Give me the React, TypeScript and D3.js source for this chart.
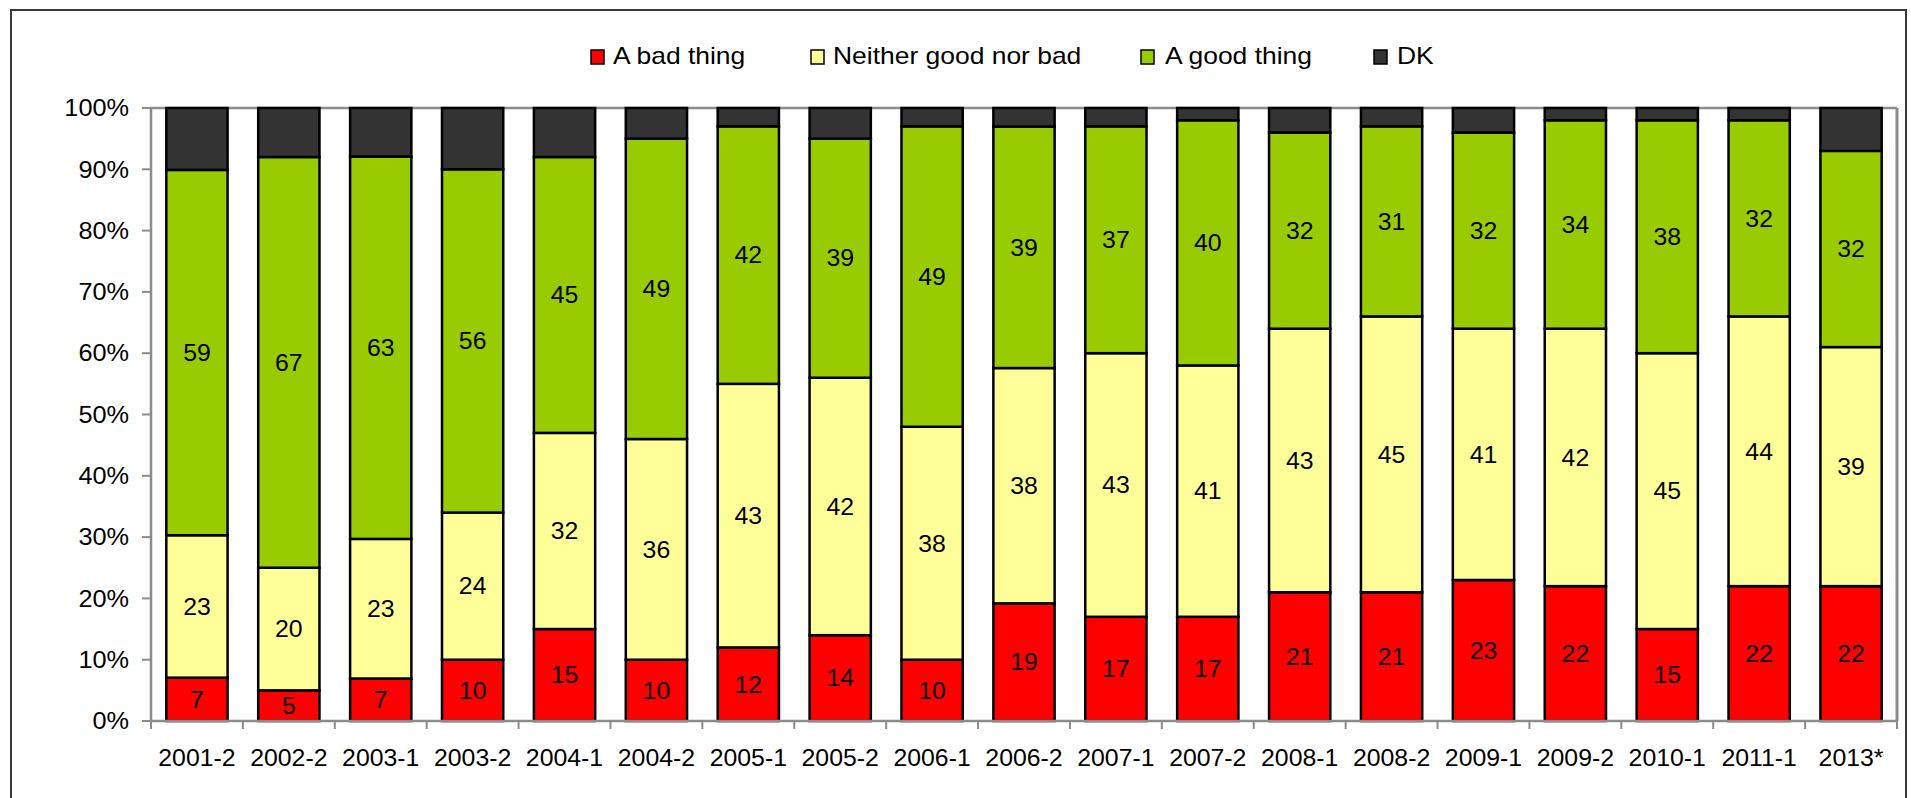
import React from "react";
import * as d3 from "d3";

const categories = [
  "2001-2", "2002-2", "2003-1", "2003-2", "2004-1", "2004-2", "2005-1",
  "2005-2", "2006-1", "2006-2", "2007-1", "2007-2", "2008-1", "2008-2",
  "2009-1", "2009-2", "2010-1", "2011-1", "2013*",
];
const badThing = [7, 5, 7, 10, 15, 10, 12, 14, 10, 19, 17, 17, 21, 21, 23, 22, 15, 22, 22];
const neither = [23, 20, 23, 24, 32, 36, 43, 42, 38, 38, 43, 41, 43, 45, 41, 42, 45, 44, 39];
const goodThing = [59, 67, 63, 56, 45, 49, 42, 39, 49, 39, 37, 40, 32, 31, 32, 34, 38, 32, 32];
const dontKnow = [10, 8, 8, 10, 8, 5, 3, 5, 3, 3, 3, 2, 4, 3, 4, 2, 2, 2, 7];
const yTicks = [0, 0.1, 0.2, 0.3, 0.4, 0.5, 0.6, 0.7, 0.8, 0.9, 1];

const seriesKeys = ["bad", "neither", "good", "dk"] as const;
const seriesNames = ["A bad thing", "Neither good nor bad", "A good thing", "DK"];
const seriesColors = ["#FF0000", "#FFFF99", "#99CC00", "#333333"];
const labelled = [true, true, true, false];

const W = 1911;
const H = 798;
const M = { left: 151, right: 1897, top: 108, bottom: 721 };
const FONT = "'Liberation Sans', Arial, sans-serif";
const FS = 23;

type Row = { cat: string; bad: number; neither: number; good: number; dk: number };
const rows: Row[] = categories.map((c, i) => ({
  cat: c,
  bad: badThing[i],
  neither: neither[i],
  good: goodThing[i],
  dk: dontKnow[i],
}));

// Text with a slightly widened glyph shape
function Label(props: {
  x: number;
  y: number;
  anchor?: "start" | "middle" | "end";
  sx?: number;
  children: React.ReactNode;
}) {
  const { x, y, anchor = "middle", sx = 1.1, children } = props;
  return (
    <text
      transform={`translate(${x},${y}) scale(${sx},1)`}
      textAnchor={anchor}
      fontFamily={FONT}
      fontSize={FS}
      fill="#000"
    >
      {children}
    </text>
  );
}

export default function App() {
  const x = d3.scaleBand<string>().domain(categories).range([M.left, M.right]).paddingInner(1 / 3).paddingOuter(1 / 6);
  const y = d3.scaleLinear().domain([0, 1]).range([M.bottom, M.top]);

  const stacked = d3
    .stack<Row>()
    .keys(seriesKeys as unknown as string[])
    .offset(d3.stackOffsetExpand)(rows);

  const step = x.step();
  const boundaries = d3.range(categories.length + 1).map((i) => M.left + i * step);

  const legendItems = [
    { marker: 591, text: 613 },
    { marker: 811, text: 833 },
    { marker: 1141, text: 1165 },
    { marker: 1374, text: 1397 },
  ];

  return (
    <svg
      width={W}
      height={H}
      style={{ position: "absolute", left: 0, top: 0, background: "#fff" }}
    >
      {/* chart frame */}
      <rect x={11} y={10} width={1895} height={H + 10} fill="#fff" stroke="#3a3a3a" strokeWidth={2} />

      {/* legend */}
      {legendItems.map((it, i) => (
        <g key={seriesNames[i]}>
          <rect x={it.marker} y={50} width={13} height={14} fill={seriesColors[i]} stroke="#000" strokeWidth={1.5} />
          <Label x={it.text} y={64} anchor="start" sx={1.15}>
            {seriesNames[i]}
          </Label>
        </g>
      ))}

      {/* plot area border */}
      <line x1={M.left} x2={M.right} y1={M.top} y2={M.top} stroke="#8c8c8c" strokeWidth={2.5} />
      <line x1={M.right} x2={M.right} y1={M.top} y2={M.bottom} stroke="#8c8c8c" strokeWidth={3} />

      {/* bars */}
      {stacked.map((layer, si) => (
        <g key={layer.key}>
          {layer.map((d, ci) => {
            const x0 = x(categories[ci]) as number;
            const y0 = y(d[1]);
            const y1 = y(d[0]);
            return (
              <rect
                key={ci}
                x={x0}
                y={y0}
                width={x.bandwidth()}
                height={y1 - y0}
                fill={seriesColors[si]}
                stroke="#000"
                strokeWidth={2.5}
              />
            );
          })}
        </g>
      ))}

      {/* value labels */}
      {stacked.map((layer, si) =>
        labelled[si]
          ? layer.map((d, ci) => {
              const cx = (x(categories[ci]) as number) + x.bandwidth() / 2;
              const cy = (y(d[0]) + y(d[1])) / 2;
              const row = rows[ci] as any;
              return (
                <Label key={`${si}-${ci}`} x={cx} y={cy + FS * 0.36} sx={1.08}>
                  {row[seriesKeys[si]]}
                </Label>
              );
            })
          : null
      )}

      {/* y axis */}
      <line x1={M.left} x2={M.left} y1={M.top} y2={M.bottom} stroke="#8c8c8c" strokeWidth={2.5} />
      {yTicks.map((t) => (
        <g key={t}>
          <line x1={M.left - 9} x2={M.left} y1={y(t)} y2={y(t)} stroke="#8c8c8c" strokeWidth={2} />
          <Label x={129} y={y(t) + FS * 0.36} anchor="end" sx={1.1}>
            {d3.format(".0%")(t)}
          </Label>
        </g>
      ))}

      {/* x axis */}
      <line x1={M.left} x2={M.right} y1={M.bottom} y2={M.bottom} stroke="#8c8c8c" strokeWidth={2.5} />
      {boundaries.map((bx, i) => (
        <line key={i} x1={bx} x2={bx} y1={M.bottom} y2={M.bottom + 8} stroke="#8c8c8c" strokeWidth={2} />
      ))}
      {categories.map((c) => (
        <Label key={c} x={(x(c) as number) + x.bandwidth() / 2} y={766} sx={1.08}>
          {c}
        </Label>
      ))}
    </svg>
  );
}
